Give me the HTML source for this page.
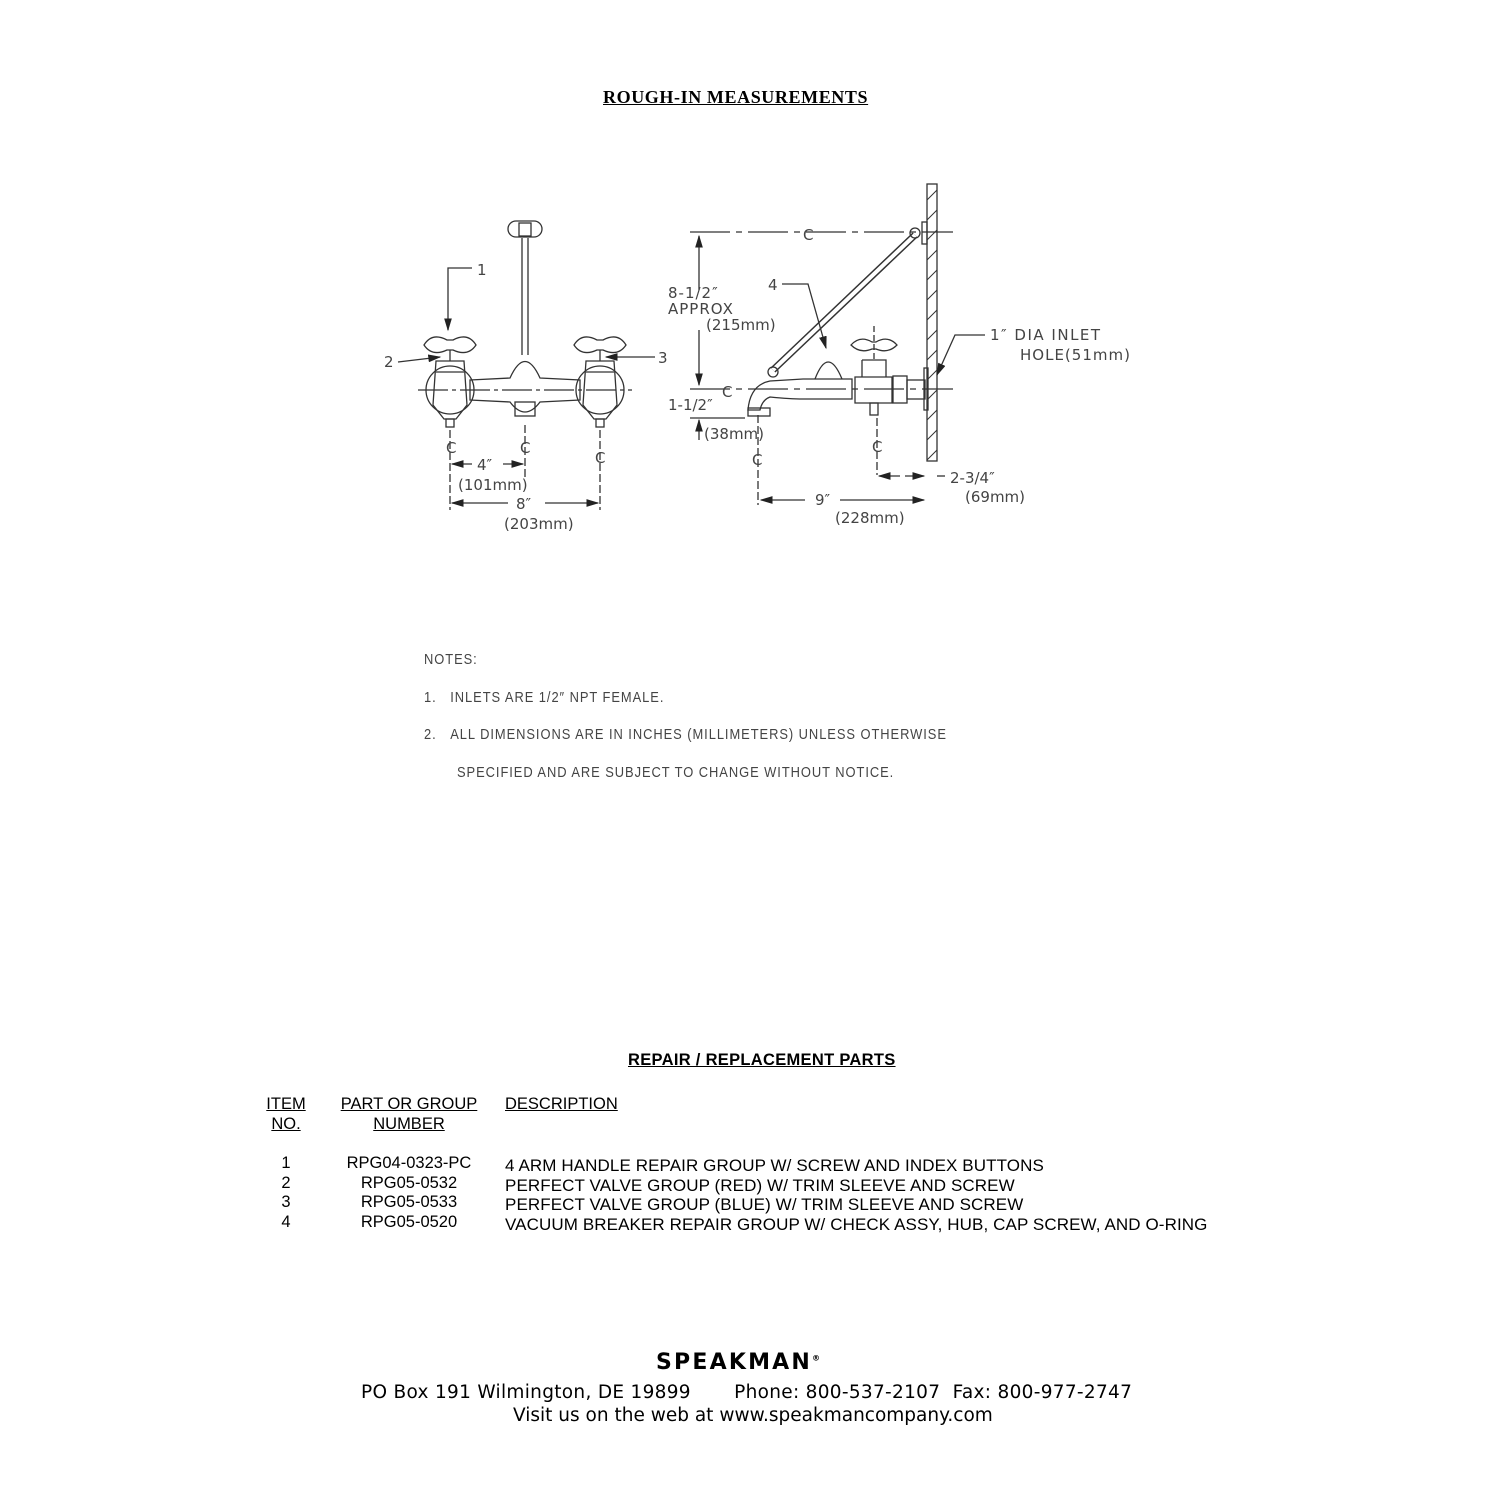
<!DOCTYPE html>
<html><head><meta charset="utf-8"><style>
body{margin:0;background:#fff;width:1500px;height:1500px;position:relative;overflow:hidden;font-family:"Liberation Sans",sans-serif;color:#000}
.t{position:absolute;white-space:nowrap}
.cad{font-family:"Liberation Sans",sans-serif;color:#444;font-size:15px;letter-spacing:1.1px;transform:scaleX(0.86);transform-origin:left}
</style></head><body>
<div class="t" style="left:603px;top:87px;font-family:'Liberation Serif',serif;font-weight:bold;font-size:18px;letter-spacing:0.6px;text-decoration:underline">ROUGH-IN MEASUREMENTS</div>

<svg width="1500" height="600" style="position:absolute;left:0;top:0" fill="none" stroke="#333" stroke-width="1.3" font-family="DejaVu Sans" font-size="15">
<defs><marker id="a" markerWidth="10" markerHeight="6" refX="9" refY="3" orient="auto"><path d="M0,0 L10,3 L0,6z" fill="#222" stroke="none"/></marker></defs>
<!-- left view -->
<line x1="418" y1="390" x2="632" y2="390" stroke-dasharray="30,4,4,4"/>
<rect x="508" y="221" width="34" height="16" rx="8"/><rect x="519" y="223" width="12" height="13"/>
<line x1="522" y1="238" x2="522" y2="355"/><line x1="528" y1="238" x2="528" y2="355"/>
<path d="M470,380 L510,378 Q525,345 540,378 L580,380 L580,400 L540,402 Q525,422 510,402 L470,400z"/>
<rect x="515" y="402" width="20" height="14"/>
<g id="v"><circle cx="450" cy="390" r="24"/><path d="M436,361 L464,361 L467,405 L456,419 L444,419 L433,405z"/><line x1="436" y1="372" x2="464" y2="372"/><path d="M424,345 Q432,332 447,340 L453,340 Q468,332 476,345 Q468,357 453,350 L447,350 Q432,357 424,345z"/><line x1="450" y1="350" x2="450" y2="361"/><rect x="446" y="419" width="8" height="8"/></g>
<use href="#v" x="150"/>
<line x1="450" y1="430" x2="450" y2="510" stroke-dasharray="8,3"/><line x1="525" y1="425" x2="525" y2="480" stroke-dasharray="8,3"/><line x1="600" y1="430" x2="600" y2="510" stroke-dasharray="8,3"/>
<line x1="472" y1="464" x2="452" y2="464" marker-end="url(#a)"/><line x1="503" y1="464" x2="523" y2="464" marker-end="url(#a)"/>
<line x1="508" y1="503" x2="452" y2="503" marker-end="url(#a)"/><line x1="545" y1="503" x2="598" y2="503" marker-end="url(#a)"/>
<path d="M472,268 L448,268 L448,330" marker-end="url(#a)"/><line x1="398" y1="362" x2="440" y2="357" marker-end="url(#a)"/><line x1="655" y1="357" x2="606" y2="357" marker-end="url(#a)"/>
<g fill="#444" stroke="none" font-size="15">
<text x="477" y="275">1</text><text x="384" y="367">2</text><text x="658" y="363">3</text>
<text x="446" y="453">Ⅽ</text><text x="520" y="453">Ⅽ</text><text x="595" y="463">Ⅽ</text>
<text x="477" y="470">4″</text><text x="458" y="490">(101mm)</text><text x="516" y="509">8″</text><text x="504" y="529">(203mm)</text>
</g>
<!-- right view -->
<rect x="927" y="184" width="10" height="277"/>
<g stroke-width="1">
<path d="M927,200 l10,-10 M927,220 l10,-10 M927,240 l10,-10 M927,260 l10,-10 M927,280 l10,-10 M927,300 l10,-10 M927,320 l10,-10 M927,340 l10,-10 M927,360 l10,-10 M927,380 l10,-10 M927,400 l10,-10 M927,420 l10,-10 M927,440 l10,-10 M927,460 l10,-10"/></g>
<line x1="690" y1="232" x2="953" y2="232" stroke-dasharray="40,6,6,6"/>
<line x1="690" y1="389" x2="953" y2="389" stroke-dasharray="40,6,6,6"/>
<line x1="699" y1="290" x2="699" y2="236" marker-end="url(#a)"/><line x1="699" y1="330" x2="699" y2="385" marker-end="url(#a)"/>
<line x1="699" y1="440" x2="699" y2="420" marker-end="url(#a)"/><line x1="690" y1="418" x2="745" y2="418"/>
<line x1="773" y1="370" x2="915" y2="235" stroke-width="7" stroke="#333"/><line x1="773" y1="370" x2="915" y2="235" stroke-width="4" stroke="#fff"/>
<circle cx="773" cy="372" r="5"/><circle cx="915" cy="233" r="5"/><rect x="922" y="222" width="5" height="22"/>
<path d="M803,379 L852,379 L852,399 L803,399 Q790,399 770,397 Q762,400 760,410 L748,410 Q750,385 770,381z"/>
<rect x="748" y="408" width="22" height="8"/>
<path d="M815,379 Q828,345 842,379"/>
<path d="M855,377 L892,377 L892,403 L855,403z"/><path d="M862,360 L886,360 L886,377 M862,360 L862,377"/>
<path d="M851,345 Q860,335 872,342 L876,342 Q888,335 897,345 Q888,354 876,349 L872,349 Q860,354 851,345z"/>
<line x1="874" y1="326" x2="874" y2="360" stroke-dasharray="6,3"/>
<rect x="870" y="403" width="8" height="12"/>
<rect x="893" y="376" width="14" height="27"/><rect x="907" y="380" width="18" height="19"/><rect x="924" y="368" width="4" height="42"/>
<line x1="758" y1="415" x2="758" y2="505" stroke-dasharray="8,3"/><line x1="877" y1="418" x2="877" y2="475" stroke-dasharray="8,3"/>
<line x1="805" y1="500" x2="761" y2="500" marker-end="url(#a)"/><line x1="840" y1="500" x2="924" y2="500" marker-end="url(#a)"/>
<line x1="900" y1="476" x2="879" y2="476" marker-end="url(#a)"/><line x1="905" y1="476" x2="924" y2="476" marker-end="url(#a)"/><line x1="937" y1="476" x2="945" y2="476"/>
<path d="M782,284 L808,284 L826,348" marker-end="url(#a)"/>
<path d="M985,335 L955,335 L937,375" marker-end="url(#a)"/>
<g fill="#444" stroke="none" font-size="15">
<text x="803" y="240">Ⅽ</text><text x="722" y="397">Ⅽ</text><text x="752" y="465">Ⅽ</text><text x="872" y="452">Ⅽ</text>
<text x="668" y="298" letter-spacing="1">8-1/2″</text><text x="668" y="314" letter-spacing="1">APPROX</text><text x="706" y="330">(215mm)</text>
<text x="768" y="290">4</text><text x="668" y="410">1-1/2″</text><text x="704" y="439">(38mm)</text>
<text x="990" y="340" letter-spacing="1.5">1″  DIA INLET</text><text x="1020" y="360" letter-spacing="1">HOLE(51mm)</text>
<text x="950" y="483">2-3/4″</text><text x="965" y="502">(69mm)</text>
<text x="815" y="505">9″</text><text x="835" y="523">(228mm)</text>
</g>
</svg>

<div class="t cad" style="left:424px;top:651px">NOTES:</div>
<div class="t cad" style="left:424px;top:689px">1.&nbsp;&nbsp;&nbsp;INLETS ARE 1/2″ NPT FEMALE.</div>
<div class="t cad" style="left:424px;top:726px">2.&nbsp;&nbsp;&nbsp;ALL DIMENSIONS ARE IN INCHES (MILLIMETERS) UNLESS OTHERWISE</div>
<div class="t cad" style="left:457px;top:764px">SPECIFIED AND ARE SUBJECT TO CHANGE WITHOUT NOTICE.</div>

<div class="t" style="left:628px;top:1051px;font-weight:bold;font-size:16.5px;letter-spacing:0.3px;text-decoration:underline">REPAIR / REPLACEMENT PARTS</div>
<div style="position:absolute;top:1094px;font-size:16.5px;line-height:20px">
<div class="t" style="left:263px;text-align:center;width:46px"><u>ITEM</u><br><u>NO.</u></div>
<div class="t" style="left:334px;text-align:center;width:150px"><u>PART OR GROUP</u><br><u>NUMBER</u></div>
<div class="t" style="left:505px"><u>DESCRIPTION</u></div>
</div>
<div style="position:absolute;top:1154px;font-size:16.5px;line-height:19.5px">
<div class="t" style="left:263px;width:46px;text-align:center">1<br>2<br>3<br>4</div>
<div class="t" style="left:334px;width:150px;text-align:center">RPG04-0323-PC<br>RPG05-0532<br>RPG05-0533<br>RPG05-0520</div>
<div class="t" style="left:505px;top:2px;font-size:17px;letter-spacing:0.1px">4 ARM HANDLE REPAIR GROUP W/ SCREW AND INDEX BUTTONS<br>PERFECT VALVE GROUP (RED) W/ TRIM SLEEVE AND SCREW<br>PERFECT VALVE GROUP (BLUE) W/ TRIM SLEEVE AND SCREW<br>VACUUM BREAKER REPAIR GROUP W/ CHECK ASSY, HUB, CAP SCREW, AND O-RING</div>
</div>

<div class="t" style="left:656px;top:1350px;font-family:'DejaVu Sans',sans-serif;font-weight:bold;font-size:22px;letter-spacing:2.2px">SPEAKMAN<sup style="font-size:8px">®</sup></div>
<div class="t" style="left:361px;top:1382px;font-family:'DejaVu Sans',sans-serif;font-size:18.5px;letter-spacing:0.3px">PO Box 191 Wilmington, DE 19899&nbsp;&nbsp;&nbsp;&nbsp;&nbsp;&nbsp;&nbsp;Phone: 800-537-2107&nbsp;&nbsp;Fax: 800-977-2747</div>
<div class="t" style="left:513px;top:1405px;font-family:'DejaVu Sans',sans-serif;font-size:18.5px;letter-spacing:0px">Visit us on the web at www.speakmancompany.com</div>
</body></html>
